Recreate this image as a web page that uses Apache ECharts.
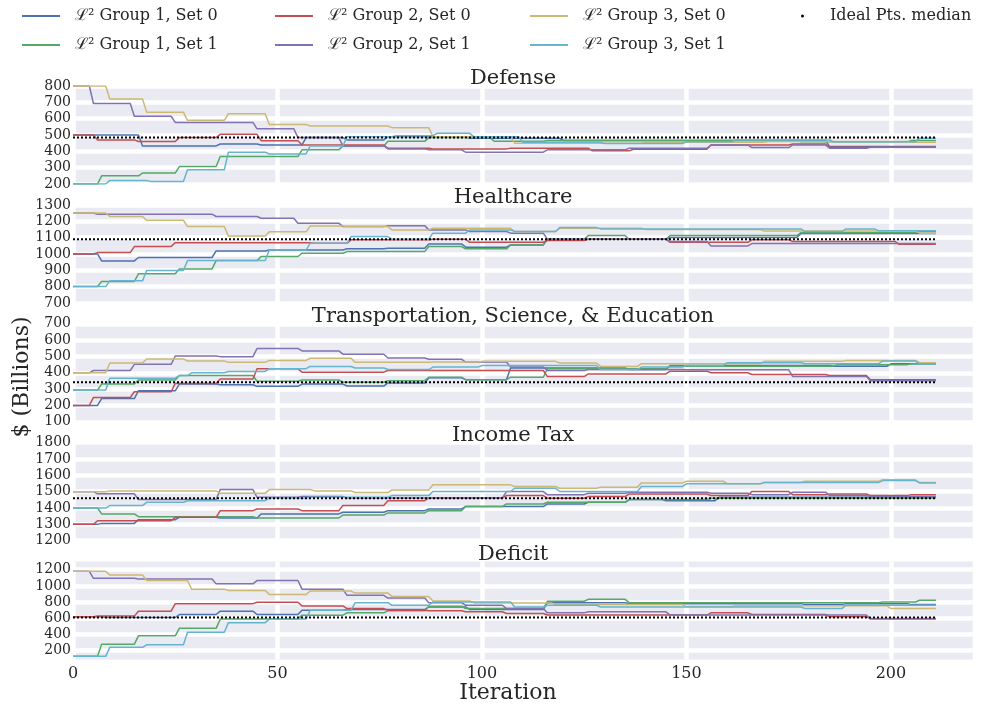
<!DOCTYPE html>
<html><head><meta charset="utf-8">
<script src="https://cdn.jsdelivr.net/npm/echarts@6/dist/echarts.min.js"></script>
<style>html,body{margin:0;padding:0;background:#fff}#c{width:990px;height:711px}</style>
</head><body><div id="c"></div><script>
// ---- data ----
const LAST_ITER = 211;
const xTicks = [0, 50, 100, 150, 200];
const seriesNames = ['ℒ² Group 1, Set 0', 'ℒ² Group 1, Set 1', 'ℒ² Group 2, Set 0', 'ℒ² Group 2, Set 1', 'ℒ² Group 3, Set 0', 'ℒ² Group 3, Set 1'];
const medianName = 'Ideal Pts. median';
const panelTitles = ['Defense', 'Healthcare', 'Transportation, Science, & Education', 'Income Tax', 'Deficit'];

const defenseTicks = [200, 300, 400, 500, 600, 700, 800];
const healthcareTicks = [700, 800, 900, 1000, 1100, 1200, 1300];
const transportTicks = [100, 200, 300, 400, 500, 600, 700];
const incomeTicks = [1200, 1300, 1400, 1500, 1600, 1700, 1800];
const deficitTicks = [200, 400, 600, 800, 1000, 1200];

// [iteration where value starts, value]
const def_g1s0 = [[0,500],[17,433],[36,445],[46,439],[57,484],[67,470],[77,490],[97,480],[120,466],[185,430]];
const def_g1s1 = [[0,200],[7,250],[17,267],[26,307],[36,368],[56,409],[66,433],[77,461],[87,484],[103,462],[116,466],[178,458],[205,466]];
const def_g2s0 = [[0,500],[6,470],[16,460],[26,484],[36,504],[46,465],[56,439],[77,419],[88,415],[107,419],[127,403],[137,413],[156,439],[176,445],[185,425]];
const def_g2s1 = [[0,800],[5,693],[15,615],[25,577],[45,538],[55,484],[66,433],[77,415],[87,409],[96,395],[116,409],[136,419],[156,439],[166,423],[176,439],[185,419],[195,425]];
const def_g3s0 = [[0,800],[9,720],[18,640],[28,590],[38,630],[48,565],[58,555],[78,545],[88,490],[108,450],[140,455],[170,460],[205,455]];
const def_g3s1 = [[0,200],[9,222],[19,216],[28,287],[38,395],[48,384],[58,433],[67,490],[79,496],[89,510],[98,490],[110,455],[130,448],[150,458],[162,470],[186,458],[207,480]];
const def_median = 485;

const hc_g1s0 = [[0,1000],[7,957],[16,978],[35,1018],[48,1024],[67,1031],[77,1035],[87,1061],[96,1041],[107,1055],[116,1090],[146,1100],[178,1125]];
const hc_g1s1 = [[0,800],[7,831],[16,878],[26,908],[35,959],[46,984],[56,1004],[67,1014],[87,1045],[96,1031],[107,1055],[116,1090],[126,1112],[136,1090],[146,1112],[178,1130],[207,1137]];
const hc_g2s0 = [[0,1000],[6,1008],[15,1045],[25,1069],[59,1065],[68,1086],[88,1090],[97,1071],[116,1082],[126,1090],[146,1071],[166,1086],[176,1076],[202,1059]];
const hc_g2s1 = [[0,1250],[6,1243],[35,1229],[46,1218],[55,1188],[66,1167],[77,1173],[87,1147],[97,1137],[107,1127],[116,1090],[146,1076],[156,1049],[166,1063]];
const hc_g3s0 = [[0,1250],[9,1229],[18,1206],[28,1167],[38,1110],[48,1135],[58,1171],[67,1167],[78,1147],[88,1157],[108,1137],[119,1157],[140,1150],[169,1140],[207,1127]];
const hc_g3s1 = [[0,800],[9,835],[18,898],[28,959],[48,1024],[58,1065],[68,1106],[78,1090],[88,1127],[97,1147],[108,1137],[119,1161],[129,1153],[179,1137],[189,1153],[197,1141]];
const hc_median = 1090;

const tr_g1s0 = [[0,200],[7,242],[16,290],[26,331],[36,327],[45,317],[56,331],[67,319],[77,338],[87,369],[96,358],[107,430],[136,420],[146,445],[186,440],[200,455]];
const tr_g1s1 = [[0,295],[7,331],[16,356],[26,383],[45,348],[56,356],[66,342],[77,352],[87,373],[96,358],[107,373],[116,425],[146,440],[187,450],[205,456]];
const tr_g2s0 = [[0,200],[5,249],[15,284],[25,335],[36,362],[45,425],[56,404],[77,414],[116,377],[126,393],[146,410],[156,400],[166,390],[185,383],[195,358]];
const tr_g2s1 = [[0,400],[5,414],[15,452],[25,503],[36,499],[45,549],[56,534],[66,514],[77,491],[87,483],[96,466],[107,435],[116,414],[126,420],[150,418],[176,377],[195,352]];
const tr_g3s0 = [[0,400],[9,460],[18,485],[28,472],[38,464],[48,476],[58,489],[69,464],[88,466],[100,470],[119,460],[129,439],[139,456],[169,470],[189,476],[207,462]];
const tr_g3s1 = [[0,295],[9,367],[26,383],[29,400],[38,408],[48,425],[58,439],[69,429],[77,420],[88,435],[100,445],[129,420],[139,435],[150,445],[160,462],[179,456],[198,472],[207,456]];
const tr_median = 342;

const it_g1s0 = [[0,1300],[7,1306],[16,1329],[26,1343],[36,1339],[46,1364],[66,1374],[77,1384],[87,1394],[96,1409],[116,1425],[126,1435],[136,1452],[145,1445],[158,1466]];
const it_g1s1 = [[0,1400],[7,1364],[16,1347],[45,1339],[66,1357],[77,1370],[87,1384],[96,1409],[106,1425],[116,1435],[136,1452],[156,1460],[210,1462]];
const it_g2s0 = [[0,1300],[6,1322],[25,1343],[36,1384],[45,1394],[56,1384],[66,1415],[77,1445],[87,1462],[106,1476],[116,1460],[126,1470],[136,1486],[156,1476],[166,1501],[176,1482],[185,1486],[195,1476],[205,1482]];
const it_g2s1 = [[0,1500],[6,1487],[16,1452],[36,1513],[45,1466],[56,1470],[67,1462],[106,1501],[116,1482],[126,1490],[136,1497],[156,1490],[166,1482],[176,1497],[185,1476],[195,1470]];
const it_g3s0 = [[0,1500],[9,1505],[36,1490],[48,1513],[59,1505],[69,1495],[78,1511],[88,1542],[108,1532],[119,1521],[129,1528],[139,1554],[150,1564],[160,1548],[169,1556],[179,1564],[198,1573],[207,1556]];
const it_g3s1 = [[0,1400],[9,1415],[18,1435],[28,1445],[48,1462],[58,1466],[78,1476],[88,1501],[108,1521],[119,1501],[139,1532],[150,1548],[169,1556],[198,1568],[207,1554]];
const it_median = 1460;

const df_g1s0 = [[0,620],[8,610],[26,647],[36,688],[45,647],[56,700],[67,708],[87,740],[97,708],[116,793],[136,781],[179,769],[189,781],[205,769]];
const df_g1s1 = [[0,130],[7,281],[16,383],[26,476],[36,590],[56,639],[67,667],[77,692],[87,749],[96,720],[116,810],[126,834],[136,793],[198,801],[207,822]];
const df_g2s0 = [[0,620],[6,627],[16,688],[25,781],[45,798],[56,753],[67,720],[77,700],[87,692],[96,680],[106,659],[116,640],[156,667],[166,647],[185,619],[195,598]];
const df_g2s1 = [[0,1180],[5,1094],[16,1086],[35,1025],[45,1066],[56,960],[67,883],[77,850],[87,793],[96,761],[106,720],[116,667],[126,680],[146,640],[195,590]];
const df_g3s0 = [[0,1180],[9,1135],[18,1066],[29,960],[38,944],[48,895],[58,936],[69,911],[78,870],[88,814],[98,790],[118,770],[150,745],[162,755],[200,720]];
const df_g3s1 = [[0,130],[9,241],[18,273],[28,428],[38,546],[48,590],[58,700],[69,793],[78,761],[88,801],[108,740],[116,761],[129,740],[179,720],[189,761]];
const df_median = 610;

// ---- build ----
const FONT = 'DejaVu Serif';
const TXT = '#262626';
const colors = ['#4C72B0', '#55A868', '#C44E52', '#8172B2', '#CCB974', '#64B5CD'];

const panels = [
  {ticks: defenseTicks, min: 200, max: 800, lines: [def_g1s0, def_g1s1, def_g2s0, def_g2s1, def_g3s0, def_g3s1], median: def_median},
  {ticks: healthcareTicks, min: 700, max: 1300, lines: [hc_g1s0, hc_g1s1, hc_g2s0, hc_g2s1, hc_g3s0, hc_g3s1], median: hc_median},
  {ticks: transportTicks, min: 100, max: 700, lines: [tr_g1s0, tr_g1s1, tr_g2s0, tr_g2s1, tr_g3s0, tr_g3s1], median: tr_median},
  {ticks: incomeTicks, min: 1200, max: 1800, lines: [it_g1s0, it_g1s1, it_g2s0, it_g2s1, it_g3s0, it_g3s1], median: it_median},
  {ticks: deficitTicks, min: 90, max: 1300, lines: [df_g1s0, df_g1s1, df_g2s0, df_g2s1, df_g3s0, df_g3s1], median: df_median}
];

function expandSteps(steps) {
  const out = [];
  let k = 0;
  for (let t = 0; t <= LAST_ITER; t++) {
    while (k + 1 < steps.length && steps[k + 1][0] <= t) k++;
    out.push([t, steps[k][1]]);
  }
  return out;
}

const GRID_LEFT = 73, GRID_W = 899.7, GRID_H = 98;
const tops = [86, 204.9, 323.8, 442.7, 561.6];
const plain = v => String(Math.round(v));

const grids = [], xAxes = [], yAxes = [], series = [], titles = [];
panels.forEach((p, i) => {
  grids.push({left: GRID_LEFT, width: GRID_W, top: tops[i], height: GRID_H, show: true, backgroundColor: '#EAEAF2', borderWidth: 0});
  xAxes.push({
    type: 'value', gridIndex: i, min: 0, max: 220,
    axisLine: {show: false},
    axisTick: {show: false, customValues: xTicks},
    axisLabel: {show: i === 4, customValues: xTicks, formatter: plain, fontFamily: FONT, fontSize: 16, color: TXT, margin: 6},
    splitLine: {show: true, lineStyle: {color: '#ffffff', width: 4.5}}
  });
  yAxes.push({
    type: 'value', gridIndex: i, min: p.min, max: p.max,
    axisLine: {show: false},
    axisTick: {show: false, customValues: p.ticks},
    axisLabel: {customValues: p.ticks, formatter: plain, fontFamily: FONT, fontSize: 14, color: TXT, margin: 2},
    splitLine: {show: true, lineStyle: {color: '#ffffff', width: 4.5}}
  });
  titles.push({
    text: panelTitles[i], left: 508, top: tops[i] - 23, textAlign: 'center',
    textStyle: {fontFamily: FONT, fontSize: 21, fontWeight: 'normal', color: TXT}
  });
  p.lines.forEach((steps, j) => {
    series.push({
      type: 'line', name: seriesNames[j], xAxisIndex: i, yAxisIndex: i,
      data: expandSteps(steps), showSymbol: false, symbol: 'none',
      lineStyle: {width: 1.5, color: colors[j]}, itemStyle: {color: colors[j]},
      z: 2
    });
  });
  series.push({
    type: 'line', name: medianName, xAxisIndex: i, yAxisIndex: i,
    data: [[0, p.median], [LAST_ITER, p.median]], showSymbol: false, symbol: 'none',
    lineStyle: {width: 2, color: '#000', type: [2, 2]}, itemStyle: {color: '#000'},
    z: 3
  });
});

const colLeft = [22, 275, 530];
const rowMid = [16, 45];
const legends = [];
seriesNames.forEach((n, j) => {
  const col = Math.floor(j / 2), row = j % 2;
  legends.push({
    left: colLeft[col], top: rowMid[row] - 10, padding: 0, selectedMode: false,
    itemWidth: 38, itemHeight: 2, icon: 'rect', data: [n],
    textStyle: {fontFamily: FONT, fontSize: 16, color: TXT, lineHeight: 20, padding: [0, 0, 0, 10]}
  });
});
legends.push({
  left: 801, top: rowMid[0] - 10, padding: 0, selectedMode: false,
  itemWidth: 3, itemHeight: 3, icon: 'circle', data: [medianName],
  textStyle: {fontFamily: FONT, fontSize: 16, color: TXT, lineHeight: 20, padding: [0, 0, 0, 21]}
});

const chart = echarts.init(document.getElementById('c'), null, {renderer: 'canvas'});
chart.setOption({
  animation: false,
  backgroundColor: '#ffffff',
  title: titles,
  legend: legends,
  grid: grids,
  xAxis: xAxes,
  yAxis: yAxes,
  series: series,
  graphic: [
    {type: 'text', x: 508, y: 693, style: {text: 'Iteration', font: '22px "DejaVu Serif"', fill: TXT, align: 'center', verticalAlign: 'middle'}},
    {type: 'text', x: 22, y: 377, rotation: Math.PI / 2, style: {text: '$ (Billions)', font: '22px "DejaVu Serif"', fill: TXT, align: 'center', verticalAlign: 'middle'}}
  ]
});
</script></body></html>
